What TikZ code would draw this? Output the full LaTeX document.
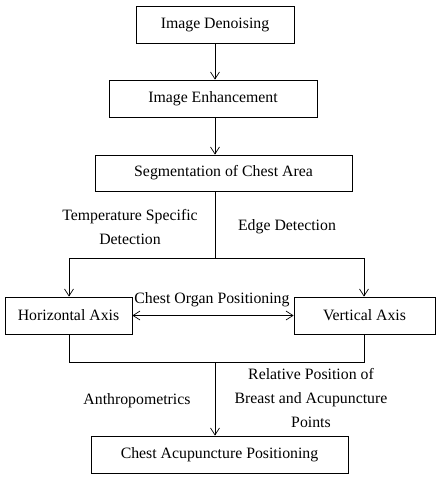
\documentclass[tikz,border=0pt]{standalone}
\usepackage{fontspec}
\setmainfont{Liberation Serif}
\usetikzlibrary{arrows.meta}
\begin{document}
\begin{tikzpicture}[x=1pt,y=-1pt,
  box/.style={draw, line width=0.8pt, inner sep=0pt},
  lbl/.style={align=center},
  conn/.style={line width=0.7pt},
  arr/.style={conn, -{Straight Barb[length=7pt,width=9pt,line width=0.7pt]}},
  darr/.style={conn, {Straight Barb[length=7pt,width=9pt,line width=0.7pt]}-{Straight Barb[length=7pt,width=9pt,line width=0.7pt]}}]
\useasboundingbox (0,0) rectangle (440,480);
\tikzset{every node/.style={font=\fontsize{15.8}{24}\selectfont}}
\node[box, minimum width=158pt, minimum height=37pt] (b1) at (215,24.5) {Image Denoising};
\node[box, minimum width=208pt, minimum height=37pt] (b2) at (213,98.5) {Image Enhancement};
\node[box, minimum width=257pt, minimum height=36pt] (b3) at (223.5,173) {Segmentation of Chest Area};
\node[box, minimum width=127pt, minimum height=37pt] (h) at (68.5,315.5) {Horizontal Axis};
\node[box, minimum width=141pt, minimum height=37pt] (v) at (364.5,315.5) {Vertical Axis};
\node[box, minimum width=257pt, minimum height=37pt] (b4) at (219.5,454.5) {Chest Acupuncture Positioning};
\coordinate (j1) at (215,258);
\coordinate (j1l) at (69,258);
\coordinate (j1r) at (364,258);
\coordinate (j2) at (215,362);
\coordinate (j2l) at (69,362);
\coordinate (j2r) at (364,362);
\draw[arr] (b1.south -| 215,0) -- (b2.north -| 215,0);
\draw[arr] (b2.south -| 215,0) -- (b3.north -| 215,0);
\draw[conn] (b3.south -| j1) -- (j1);
\draw[arr] (j1) -- (j1l) -- (h.north -| j1l);
\draw[arr] (j1) -- (j1r) -- (v.north -| j1r);
\draw[darr] (h.east) -- (v.west);
\draw[conn] (h.south -| j2l) -- (j2l) -- (j2r) -- (v.south -| j2r);
\draw[arr] (j2) -- (b4.north -| j2);
\node[lbl] (t1) at (130,227) {Temperature Specific\\Detection};
\node[lbl] (t2) at (287,227) {Edge Detection};
\node[lbl] (t3) at (212,300) {Chest Organ Positioning};
\node[lbl] (t4) at (137,401) {Anthropometrics};
\node[lbl] (t5) at (311,398) {Relative Position of\\Breast and Acupuncture\\Points};
\end{tikzpicture}
\end{document}
